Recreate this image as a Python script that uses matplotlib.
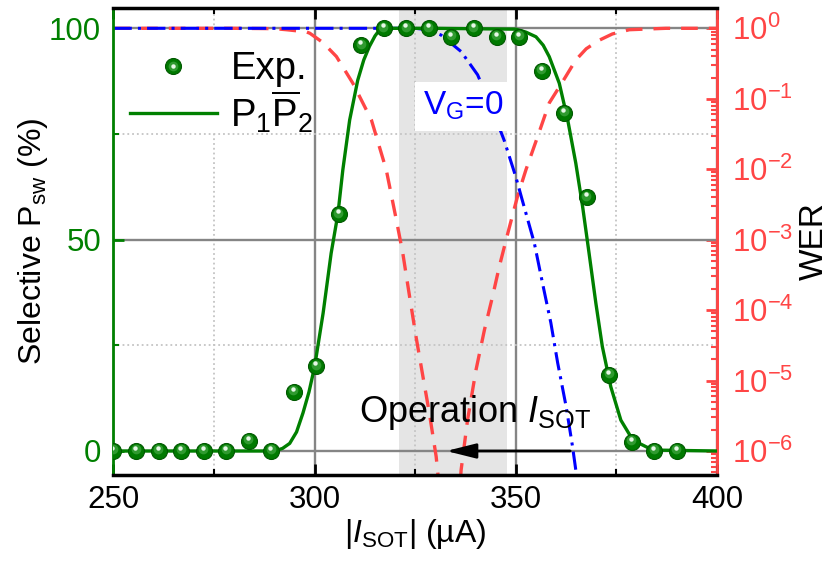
import numpy as np
import matplotlib
matplotlib.use("Agg")
import matplotlib.pyplot as plt
from matplotlib.ticker import MultipleLocator, LogLocator, NullFormatter, FuncFormatter
from matplotlib.transforms import offset_copy
from matplotlib.patches import Rectangle

plt.rcParams['font.family'] = ['Liberation Sans', 'DejaVu Sans']
plt.rcParams['mathtext.fontset'] = 'custom'
plt.rcParams['mathtext.rm'] = 'Liberation Sans'
plt.rcParams['mathtext.it'] = 'Liberation Sans:italic'
plt.rcParams['mathtext.bf'] = 'Liberation Sans:bold'
plt.rcParams['mathtext.sf'] = 'Liberation Sans'

# ---- data ----
exp_current = [250, 255.6, 261.2, 266.8, 272.4, 278, 283.6, 289.2, 294.8, 300.4, 306, 311.6, 317.2,
               322.8, 328.4, 334, 339.6, 345.2, 350.8, 356.4, 362, 367.6, 373.2, 378.8, 384.4, 390]
exp_psw = [0, 0, 0, 0, 0, 0, 2.4, 0, 14, 20, 56, 96, 100,
           100, 100, 98, 100, 98, 98, 90, 80, 60, 18, 2.2, 0, 0]

fit_current = [250, 270, 290, 292, 293.8, 295.5, 297.1, 298.6, 300, 302.1, 304.1, 305.8, 307, 308.7,
               310.7, 312.2, 313.6, 315, 316.1, 318.6, 330, 350, 352.5, 355, 356.8, 358.3, 360.8,
               362.9, 364.9, 366.6, 368.2, 369.9, 371.5, 373.6, 376.1, 378.5, 380.7, 383, 385.7, 400]
fit_psw = [0, 0, 0, 0.6, 1.8, 4.5, 9, 14, 20, 32.6, 46.8, 56.2, 66.5, 78.3,
           87.7, 92.5, 95.7, 98.2, 99.6, 100, 100, 99.8, 99.1, 98, 96, 93.3, 87,
           78.3, 68.1, 57.8, 46.8, 34.9, 24.7, 15.2, 7.3, 3.5, 1.8, 0.7, 0.2, 0]

wer1_current = [250, 280, 290, 293, 297.9, 298.8, 302, 305.4, 309.5, 314.1, 317.8, 320.3, 321.9,
                323.6, 325.2, 326.9, 328.5, 330.2, 330.6, 331.5]
wer1_log = [0, 0, -0.005, -0.02, -0.05, -0.07, -0.2, -0.40, -0.78, -1.30, -2.01, -2.72, -3.19,
            -3.81, -4.38, -4.94, -5.46, -6.08, -6.31, -6.8]

wer2_current = [335.8, 336.4, 338.0, 340.1, 342.2, 344.2, 345.9, 348.0, 350.4, 352.5, 355.4, 358.3,
                361.6, 364.9, 367.5, 370.7, 374, 378.2, 387.3, 400]
wer2_log = [-6.8, -6.27, -5.56, -4.85, -4.28, -3.81, -3.38, -2.91, -2.39, -2.01, -1.54, -1.06,
            -0.76, -0.45, -0.29, -0.17, -0.08, -0.02, 0, 0]

vg0_current = [250, 325, 328, 331.4, 336.4, 340.5, 343.8, 347.1, 350.0, 351.7, 354.6, 356.6,
               358.7, 360.4, 362.5, 364.1, 364.9, 365.5]
vg0_log = [0, 0, -0.02, -0.095, -0.33, -0.66, -1.1, -1.59, -2.11, -2.46, -3.05, -3.61,
           -4.18, -4.75, -5.37, -5.94, -6.27, -6.6]

window = (320.9, 347.8)
arrow_from, arrow_to = 363.5, 332.7

GREEN = '#008000'
RED = '#ff4545'
BLUE = '#0000ff'

fig = plt.figure(figsize=(8.35, 5.62), dpi=100)
ax = fig.add_axes([0.1359, 0.1548, 0.7228, 0.8318])
ax2 = ax.twinx()
ax.set_zorder(ax2.get_zorder() + 1)
ax.patch.set_visible(False)

# ---- right axis (WER) ----
ax2.set_yscale('log')
ax2.set_xlim(250, 400)
ax2.set_ylim(10 ** -6.341, 10 ** 0.295)
ax2.yaxis.set_major_locator(LogLocator(base=10, numticks=20))
ax2.yaxis.set_minor_locator(LogLocator(base=10, subs=np.arange(2, 10), numticks=20))
ax2.yaxis.set_minor_formatter(NullFormatter())
ax2.yaxis.set_major_formatter(FuncFormatter(lambda v, p: r'$\mathregular{10^{%d}}$' % int(round(np.log10(v)))))
ax2.tick_params(axis='y', which='both', direction='in', colors=RED, labelsize=22.5, pad=11)
ax2.tick_params(axis='y', which='major', length=8, width=2)
ax2.tick_params(axis='y', which='minor', length=4, width=1.5)
for s in ['left', 'top', 'bottom']:
    ax2.spines[s].set_visible(False)
ax2.spines['right'].set_color(RED)
ax2.spines['right'].set_linewidth(2)
ax2.set_ylabel('WER', fontsize=24, color='black')
ax2.yaxis.set_label_coords(1.135, 0.5)

# ---- main axis ----
ax.axvspan(window[0], window[1], color='#e5e5e5', lw=0, zorder=0)
wer_tr = ax2.transData
ax.plot(wer1_current, 10.0 ** np.array(wer1_log), color=RED, lw=2.4, dashes=(5, 3.3),
        transform=wer_tr, zorder=2)
ax.plot(wer2_current, 10.0 ** np.array(wer2_log), color=RED, lw=2.4, dashes=(5, 3.3),
        transform=wer_tr, zorder=2)
ax.plot(vg0_current, 10.0 ** np.array(vg0_log), color=BLUE, lw=2.2, dashes=(6, 2, 1, 2),
        transform=wer_tr, zorder=2.1)

ax.plot(fit_current, fit_psw, color=GREEN, lw=2.4, zorder=3)
main_pts, = ax.plot(exp_current, exp_psw, 'o', ms=11.5, color='#007a00', mec='#005800', mew=0.8,
                    zorder=4, ls='none')
mid_tr = offset_copy(ax.transData, fig=fig, x=-0.5, y=1.5, units='dots')
ax.plot(exp_current, exp_psw, 'o', ms=7, color='#2f9a2f', mec='none', zorder=4.1,
        transform=mid_tr, ls='none')
hl_tr = offset_copy(ax.transData, fig=fig, x=-1, y=3, units='dots')
ax.plot(exp_current, exp_psw, 'o', ms=3.2, color='#e6f7e6', mec='none', zorder=4.2,
        transform=hl_tr, ls='none')

ax.set_xlim(250, 400)
ax.set_ylim(-5.68, 104.92)
ax.xaxis.set_major_locator(MultipleLocator(50))
ax.xaxis.set_minor_locator(MultipleLocator(25))
ax.yaxis.set_major_locator(MultipleLocator(50))
ax.yaxis.set_minor_locator(MultipleLocator(25))
ax.grid(True, which='major', color='#858585', lw=1.7, ls='-')
ax.grid(True, which='minor', color='#c4c4c4', lw=1.3, ls=':')

# legend with white background patch
ax.add_patch(Rectangle((0, 0.7316), 0.324, 0.219, transform=ax.transAxes, facecolor='white',
                       edgecolor='none', zorder=1.8))
fit_handle, = ax.plot([], [], color=GREEN, lw=2.4)
mid_handle, = ax.plot([], [], 'o', ms=7, color='#2f9a2f', mec='none', ls='none')
hl_handle, = ax.plot([], [], 'o', ms=3.2, color='#e6f7e6', mec='none', ls='none')
leg = ax.legend([(main_pts, mid_handle, hl_handle), fit_handle],
                ['Exp.', r'$\mathregular{P_1\overline{P}_2}$'],
                loc='upper left', bbox_to_anchor=(0.0273, 0.907), borderaxespad=0,
                fontsize=27.5, frameon=False, handlelength=2.28, handletextpad=0.35,
                borderpad=0, labelspacing=0.03)
leg.set_zorder(6)

ax.text(327.0, 79.5, r'V$_{\mathregular{G}}$=0', color=BLUE, fontsize=24, va='baseline', ha='left',
        bbox=dict(facecolor='white', edgecolor='none', pad=6), zorder=6)
ax.text(311.0, 6.9, r'Operation $I_{\mathregular{SOT}}$', color='black', fontsize=26,
        va='baseline', ha='left', zorder=6)
ax.annotate('', xy=(arrow_to, 0), xytext=(arrow_from, 0),
            arrowprops=dict(arrowstyle='-|>,head_length=1.8,head_width=0.45', color='black',
                            lw=2, mutation_scale=10, shrinkA=0, shrinkB=0), zorder=6)

ax.tick_params(axis='x', which='both', direction='in', top=True, bottom=True, colors='black',
               labelsize=22.5, pad=7)
ax.tick_params(axis='x', which='major', length=8, width=2)
ax.tick_params(axis='x', which='minor', length=4, width=1.5)
ax.tick_params(axis='y', which='both', direction='in', left=True, right=False, color=GREEN,
               labelcolor=GREEN, labelsize=22.5, pad=9)
ax.tick_params(axis='y', which='major', length=8, width=2)
ax.tick_params(axis='y', which='minor', length=4, width=1.5)

ax.spines['left'].set_color(GREEN)
ax.spines['left'].set_linewidth(2)
ax.spines['right'].set_color(RED)
ax.spines['right'].set_linewidth(2)
ax.spines['top'].set_linewidth(2.5)
ax.spines['bottom'].set_linewidth(2.5)

ax.set_xlabel(r'|$I_{\mathregular{SOT}}$| (µA)', fontsize=23)
ax.xaxis.set_label_coords(0.5, -0.09)
ax.set_ylabel(r'Selective P$_{\mathregular{sw}}$ (%)', fontsize=23)
ax.yaxis.set_label_coords(-0.105, 0.5)

for a in (ax, ax2):
    a.xaxis.get_offset_text().set_visible(False)
    a.yaxis.get_offset_text().set_visible(False)

fig.savefig('out.png', dpi=100, facecolor='white')
